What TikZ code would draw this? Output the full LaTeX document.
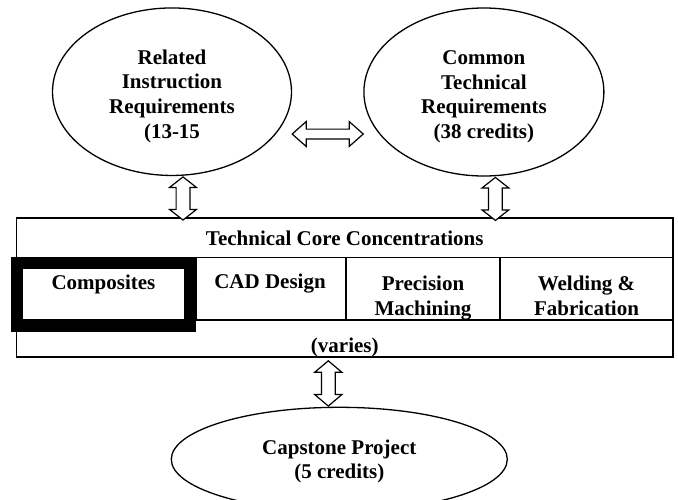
\documentclass[tikz,border=0pt]{standalone}
\usepackage{fontspec}
\setmainfont{Liberation Serif}
\usetikzlibrary{shapes.geometric,calc}
\newcommand\vblockarrow[5]{% #1 top, #2 bottom, #3 shaft half, #4 head half, #5 head length
  \draw[arr] (#1) -- ($(#1)+(#4,#5)$) -- ($(#1)+(#3,#5)$) -- ($(#2)+(#3,-#5)$) -- ($(#2)+(#4,-#5)$) -- (#2)
    -- ($(#2)+(-#4,-#5)$) -- ($(#2)+(-#3,-#5)$) -- ($(#1)+(-#3,#5)$) -- ($(#1)+(-#4,#5)$) -- cycle;}
\newcommand\hblockarrow[5]{% #1 left, #2 right, #3 shaft half, #4 head half, #5 head length
  \draw[arr] (#1) -- ($(#1)+(#5,-#4)$) -- ($(#1)+(#5,-#3)$) -- ($(#2)+(-#5,-#3)$) -- ($(#2)+(-#5,-#4)$) -- (#2)
    -- ($(#2)+(-#5,#4)$) -- ($(#2)+(-#5,#3)$) -- ($(#1)+(#5,#3)$) -- ($(#1)+(#5,#4)$) -- cycle;}
\begin{document}
\begin{tikzpicture}[x=1pt,y=-1pt,
  every node/.style={font=\fontsize{21}{24.8}\selectfont\bfseries, inner sep=0pt},
  oval/.style={ellipse, draw, line width=1.3pt, align=center},
  txt/.style={align=center},
  frame/.style={draw, line width=1.6pt},
  thickframe/.style={draw, line width=12pt},
  arr/.style={draw, fill=white, line width=1.2pt, line join=miter}]
\useasboundingbox (0,0) rectangle (678,499);

% top ellipses
\node[oval, minimum width=239pt, minimum height=167.5pt] (L) at (172,91.7)
  {\rule{0pt}{23.5pt}Related\\Instruction\\Requirements\\(13-15};
\node[oval, minimum width=240pt, minimum height=168pt] (R) at (483.9,92)
  {\rule{0pt}{23.5pt}Common\\Technical\\Requirements\\(38 credits)};

% core box
\node[frame, minimum width=656.5pt, minimum height=139pt] (core) at (344.75,287.5) {};
\node (hdr) at (344.75,238) {Technical Core Concentrations};
\coordinate (r1) at (0,257.5);
\coordinate (r2) at (0,320);
\draw[frame] (core.west |- r1) -- (core.east |- r1);
\draw[frame] (core.west |- r2) -- (core.east |- r2);
\draw[frame] (196,257.5) -- (196,320);
\draw[frame] (346,257.5) -- (346,320);
\draw[frame] (500,257.5) -- (500,320);

\node[txt] (c2) at (270,283.5) {CAD Design};
\node[txt, anchor=north] (c3) at (423,275.5) {Precision\\Machining};
\node[txt, anchor=north] (c4) at (586.5,275.5) {Welding \&\\Fabrication};
\node[thickframe, minimum width=173pt, minimum height=63pt] (compbox) at (103.5,294.5) {};
\node (c1) at (103.5,284) {Composites};
\node (var) at (344.75,347.5) {(varies)};

% capstone
\node[oval, minimum width=336pt, minimum height=104pt] (C) at (339.3,459.3)
  {\rule{0pt}{19pt}Capstone Project\\(5 credits)};

% connectors
\coordinate (a1s) at ($(L.south)+(11,0.8)$);
\coordinate (a1e) at ($(a1s |- core.north)+(0,2.8)$);
\coordinate (a2s) at ($(R.south)+(11.5,0.8)$);
\coordinate (a2e) at ($(a2s |- core.north)+(0,3.2)$);
\coordinate (a3e) at ($(C.north)+(-11,-0.6)$);
\coordinate (a3s) at ($(a3e |- core.south)+(0,3)$);
\coordinate (h1s) at ($(L.east |- 0,134)+(0,0)$);
\coordinate (h1e) at ($(R.west |- 0,134)+(0,0)$);

\vblockarrow{a1s}{a1e}{6.9}{13.4}{10.5}
\vblockarrow{a2s}{a2e}{6.9}{13.4}{10.5}
\vblockarrow{a3s}{a3e}{6.9}{13.6}{11.5}
\hblockarrow{h1s}{h1e}{4.9}{12.4}{14}
\end{tikzpicture}
\end{document}
